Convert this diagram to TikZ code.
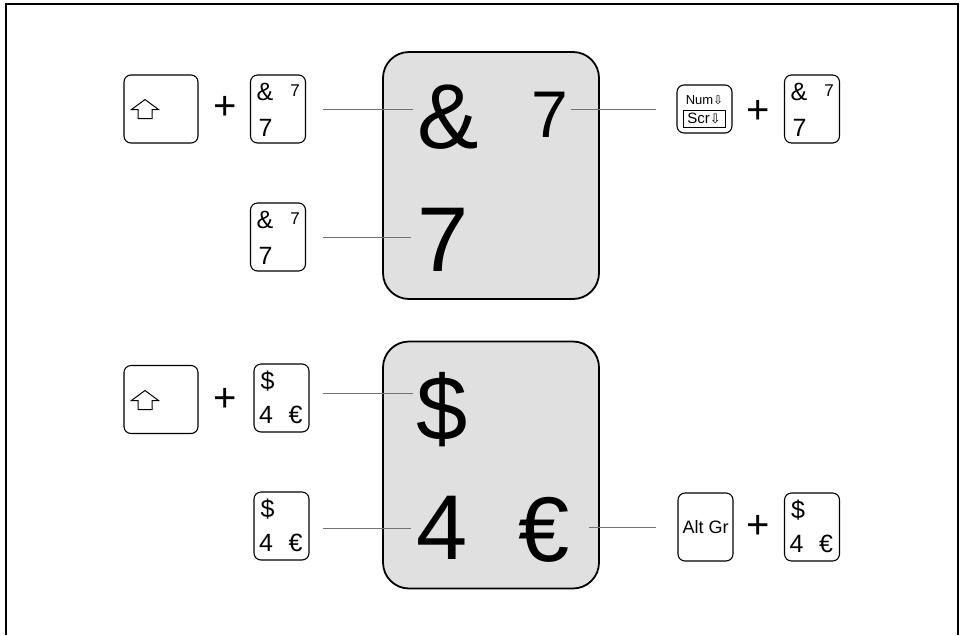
\documentclass[tikz,border=0pt]{standalone}
\usepackage{fontspec}
\setmainfont{Liberation Sans}
\newfontfamily\symfont{DejaVu Sans}
\begin{document}
\begin{tikzpicture}[x=1pt, y=-1pt,
  key/.style={draw, rounded corners=7pt, line width=1.1pt, inner sep=0pt, minimum width=55pt, minimum height=68pt},
  keycap/.style={draw, rounded corners=26pt, line width=1.8pt, fill=black!12, minimum width=216pt, minimum height=247pt},
  glyph/.style={inner sep=0pt, font=\fontsize{92}{92}\selectfont},
  keytext/.style={inner sep=0pt, font=\fontsize{25}{25}\selectfont},
  link/.style={draw=black!55, line width=1pt},
  plus/.style={inner sep=0pt, font=\fontsize{40}{40}\selectfont}]
\useasboundingbox (0,0) rectangle (963,635);
\draw[line width=2pt] (6,635) -- (6,4) -- (958,4) -- (958,635);

% the two big keycaps
\node[keycap] (cap-1) at (491,175.5) {};
\node[keycap] (cap-2) at (491,465) {};

\node[glyph] (amp) at (448,117) {\&};
\node[glyph, font=\fontsize{66}{66}\selectfont] (seven) at (550,115) {7};
\node[glyph] (big-seven) at (443,240) {7};
\node[glyph] (dollar) at (442,410) {\$};
\node[glyph] (four) at (442,528) {4};
\node[glyph] (euro) at (544,530) {€};

% small keys
\node[key, minimum width=74pt] (shift-1) at (161,109) {};
\node[key] (k-1) at (278,109) {};
\node[key] (k-2) at (278,237) {};
\node[key, minimum height=48pt] (num) at (704.5,109) {};
\node[key] (k-3) at (812,109) {};
\node[key, minimum width=74pt] (shift-2) at (161,399.5) {};
\node[key] (d-1) at (281.5,398) {};
\node[key] (d-2) at (281.5,526) {};
\node[key, font=\fontsize{18}{18}\selectfont] (altgr) at (705.5,527) {Alt Gr};
\node[key] (d-3) at (812,527) {};

\foreach \k in {k-1,k-2,k-3} {
  \node[keytext] at ([shift={(-13,-17)}]\k.center) {\&};
  \node[keytext] at ([shift={(-12.5,18.5)}]\k.center) {7};
  \node[keytext, font=\fontsize{17}{17}\selectfont] at ([shift={(17,-18)}]\k.center) {7};
}
\foreach \k in {d-1,d-2,d-3} {
  \node[keytext] at ([shift={(-14,-16.5)}]\k.center) {\$};
  \node[keytext] at ([shift={(-15.5,17)}]\k.center) {4};
  \node[keytext] at ([shift={(14,17)}]\k.center) {€};
}

\node[inner sep=0pt, font=\fontsize{13}{13}\selectfont] (num-text) at (704.5,100) {Num{\symfont\fontsize{12}{12}\selectfont ⇩}};
\node[draw, line width=0.8pt, inner sep=0pt, minimum width=42pt, minimum height=17pt, font=\fontsize{15}{15}\selectfont] (scr) at (704,118.5) {Scr{\symfont\fontsize{13}{13}\selectfont ⇩}};

\foreach \y in {109,400}
  \draw[line width=1pt, shift={(145,\y)}] (0,-9.5) -- (13.5,0.5) -- (7,0.5) -- (7,9.5) -- (-7,9.5) -- (-7,0.5) -- (-13.5,0.5) -- cycle;

\node[plus] (plus-1) at (225,108) {+};
\node[plus] (plus-2) at (758,112) {+};
\node[plus] (plus-3) at (225,400) {+};
\node[plus] (plus-4) at (758,527) {+};

% connectors
\draw[link, shorten <=16.5pt, shorten >=4pt] (k-1.east) -- (k-1.east -| amp.west);
\draw[link, shorten <=16.5pt, shorten >=6pt] (k-2.east) -- (k-2.east -| big-seven.west);
\draw[link, shorten <=2pt, shorten >=20pt] (num.west -| seven.east) -- (num.west);
\draw[link, shorten <=13pt, shorten >=3pt] ([yshift=5pt]d-1.east) -- ([yshift=5pt]d-1.east -| dollar.west);
\draw[link, shorten <=13pt, shorten >=5pt] ([yshift=-2pt]d-2.east) -- ([yshift=-2pt]d-2.east -| four.west);
\draw[link, shorten <=19pt, shorten >=21pt] (altgr.west -| euro.east) -- (altgr.west);
\end{tikzpicture}
\end{document}
